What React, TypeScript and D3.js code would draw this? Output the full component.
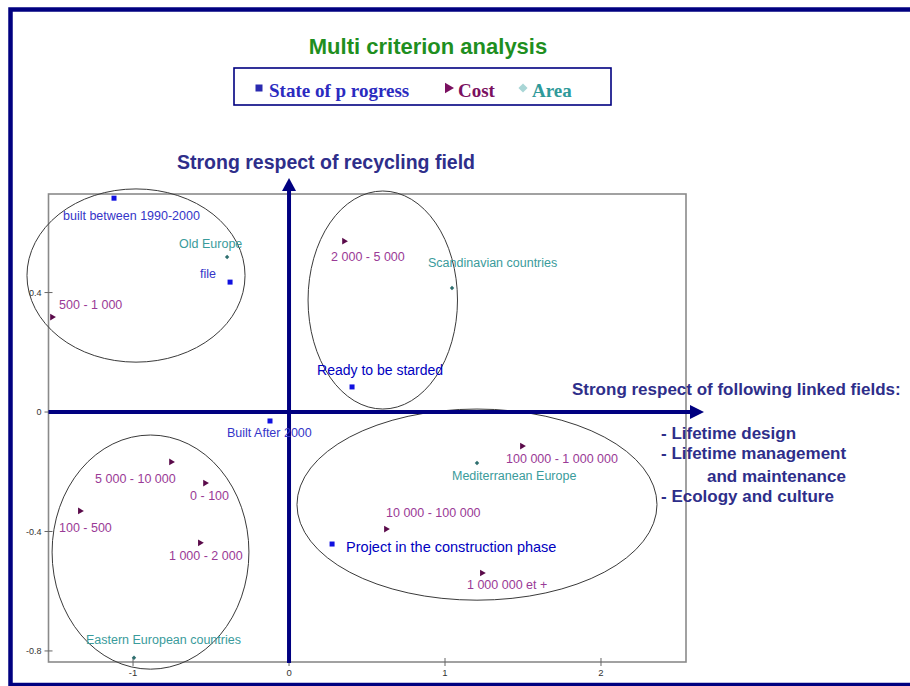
import React from 'react';
import * as d3 from 'd3';

// ---- data ----
const stateLabels = ['built between 1990-2000', 'file', 'Ready to be starded', 'Built After 2000', 'Project in the construction phase'];
const stateX = [-1.122, -0.378, 0.404, -0.122, 0.276];
const stateY = [0.716, 0.435, 0.084, -0.03, -0.442];

const costLabels = ['2 000 - 5 000', '500 - 1 000', '5 000 - 10 000', '0 - 100', '100 - 500', '1 000 - 2 000', '100 000 - 1 000 000', '10 000 - 100 000', '1 000 000 et +'];
const costX = [0.353, -1.519, -0.756, -0.538, -1.34, -0.571, 1.494, 0.622, 1.237];
const costY = [0.572, 0.318, -0.167, -0.238, -0.331, -0.438, -0.114, -0.392, -0.539];

const areaLabels = ['Old Europe', 'Scandinavian countries', 'Mediterranean Europe', 'Eastern European countries'];
const areaX = [-0.397, 1.045, 1.205, -0.994];
const areaY = [0.519, 0.415, -0.171, -0.823];

// cluster ellipses (data units)
const groupCX = [-0.981, 0.601, -0.888, 1.205];
const groupCY = [0.457, 0.375, -0.469, -0.31];
const groupRX = [0.699, 0.479, 0.631, 1.154];
const groupRY = [0.29, 0.365, 0.392, 0.32];

const xTicks = [-1, 0, 1, 2];
const yTicks = [0.4, 0, -0.4, -0.8];

const title = 'Multi criterion analysis';
const legendNames = ['State of p rogress', 'Cost', 'Area'];
const yAxisTitle = 'Strong respect of recycling field';
const xAxisTitle = 'Strong respect of following linked fields:';
const xAxisLines = ['- Lifetime design', '- Lifetime management', 'and maintenance', '- Ecology and culture'];

// ---- layout (pixel offsets of labels relative to their points) ----
const stateDx = [-51, -30, -35, -43, 14];
const stateDy = [17, -8, -17, 12, 3];
const stateFs = [12.5, 12.5, 14, 12.5, 14.5];
const stateFill = ['#3535c8', '#3535c8', '#0000c0', '#3535c8', '#0000c0'];
const costDx = [-13, 7, -76, -15, -21, -31, -16, 0, -15];
const costDy = [15, -12, 17, 13, 17, 13, 13, -16, 12];
const areaDx = [-48, -24, -25, -48];
const areaDy = [-13, -25, 13, -18];

const W = 910;
const H = 686;
const NAVY = '#000080';
const TXT = '#2e2e8a';
const SANS = '"Liberation Sans", Arial, sans-serif';
const SERIF = '"Liberation Serif", "Times New Roman", serif';

export default function App() {
  const x = d3.scaleLinear().domain([-1.542, 2.545]).range([48.5, 686]);
  const y = d3.scaleLinear().domain([-0.837, 0.73]).range([662, 194]);
  const [x0, x1] = x.range();
  const [y0, y1] = y.range();

  const tri = d3.symbol().type(d3.symbolTriangle).size(30)();
  const dot = d3.symbol().type(d3.symbolSquare).size(10)();

  return (
    <svg width={W} height={H} style={{ position: 'absolute', left: 0, top: 0, background: '#fff' }}>
      <rect x={0} y={0} width={W} height={H} fill="#fff" />
      {/* outer border */}
      <rect x={10.5} y={9.5} width={905} height={675.5} fill="none" stroke={NAVY} strokeWidth={4.5} />

      {/* title */}
      <text x={428} y={54} textAnchor="middle" fontFamily={SANS} fontWeight="bold" fontSize={22} fill="#1f8f1f">{title}</text>

      {/* legend */}
      <rect x={234} y={68} width={377} height={37} fill="#fff" stroke={NAVY} strokeWidth={1.6} />
      <rect x={255.5} y={84.5} width={7} height={7} fill="#2a2ab0" />
      <text x={269} y={97} fontFamily={SERIF} fontWeight="bold" fontSize={19} fill="#2b2bc0">{legendNames[0]}</text>
      <path d={tri} transform="translate(448,88) rotate(90) scale(1.25)" fill="#7a1060" />
      <text x={458} y={97} fontFamily={SERIF} fontWeight="bold" fontSize={19} fill="#7a1060">{legendNames[1]}</text>
      <path d={d3.symbol().type(d3.symbolSquare).size(42)()} transform="translate(523,88) rotate(45)" fill="#a9d6d6" />
      <text x={532} y={97} fontFamily={SERIF} fontWeight="bold" fontSize={19} fill="#2f9a9a">{legendNames[2]}</text>

      {/* plot frame */}
      <rect x={x0} y={y1} width={x1 - x0} height={y0 - y1} fill="none" stroke="#8a8a8a" strokeWidth={1.6} />

      {/* y ticks */}
      {yTicks.map((t) => (
        <g key={'yt' + t}>
          <line x1={x0 - 4} x2={x0 + 4} y1={y(t)} y2={y(t)} stroke="#666" strokeWidth={1} />
          <text x={x0 - 7} y={y(t)} dy="0.35em" textAnchor="end" fontFamily={SANS} fontSize={9} fill="#333">{t === 0 ? '0' : String(t)}</text>
        </g>
      ))}
      {/* x ticks */}
      {xTicks.map((t) => (
        <g key={'xt' + t}>
          <line x1={x(t)} x2={x(t)} y1={y0 - 4} y2={y0 + 4} stroke="#666" strokeWidth={1} />
          <text x={x(t)} y={y0 + 14} textAnchor="middle" fontFamily={SANS} fontSize={9.5} fill="#333">{String(t)}</text>
        </g>
      ))}

      {/* cluster ellipses */}
      {groupCX.map((cx, i) => (
        <ellipse key={'el' + i} cx={x(cx)} cy={y(groupCY[i])}
          rx={x(groupRX[i]) - x(0)} ry={y(0) - y(groupRY[i])}
          fill="none" stroke="#3a3a3a" strokeWidth={1} />
      ))}

      {/* axes arrows */}
      <line x1={x0} x2={x1 + 6} y1={y(0)} y2={y(0)} stroke={NAVY} strokeWidth={4} />
      <path d={`M${x1 + 18},${y(0)} L${x1 + 4},${y(0) - 7} L${x1 + 4},${y(0) + 7} Z`} fill={NAVY} />
      <line x1={x(0)} x2={x(0)} y1={y0 + 1} y2={y1 - 5} stroke={NAVY} strokeWidth={4} />
      <path d={`M${x(0)},${y1 - 16} L${x(0) - 7},${y1 - 3} L${x(0) + 7},${y1 - 3} Z`} fill={NAVY} />

      {/* area points */}
      {areaLabels.map((lab, i) => (
        <g key={'a' + i}>
          <path d={dot} transform={`translate(${x(areaX[i])},${y(areaY[i])}) rotate(45)`} fill="#2f6f6f" />
          <text x={x(areaX[i]) + areaDx[i]} y={y(areaY[i]) + areaDy[i]} dy="0.35em" fontFamily={SANS} fontSize={12.5} fill="#3a9b9b">{lab}</text>
        </g>
      ))}

      {/* cost points */}
      {costLabels.map((lab, i) => (
        <g key={'c' + i}>
          <path d={tri} transform={`translate(${x(costX[i])},${y(costY[i])}) rotate(90) scale(0.8)`} fill="#5a0a4a" />
          <text x={x(costX[i]) + costDx[i]} y={y(costY[i]) + costDy[i]} dy="0.35em" fontFamily={SANS} fontSize={12.5} fill="#9a3a96">{lab}</text>
        </g>
      ))}

      {/* state of progress points */}
      {stateLabels.map((lab, i) => (
        <g key={'s' + i}>
          <rect x={x(stateX[i]) - 2.5} y={y(stateY[i]) - 2.5} width={5} height={5} fill="#1010e0" />
          <text x={x(stateX[i]) + stateDx[i]} y={y(stateY[i]) + stateDy[i]} dy="0.35em" fontFamily={SANS} fontSize={stateFs[i]} fill={stateFill[i]}>{lab}</text>
        </g>
      ))}

      {/* axis titles */}
      <text x={177} y={169} fontFamily={SANS} fontWeight="bold" fontSize={19.5} fill={TXT}>{yAxisTitle}</text>
      <text x={572} y={395} fontFamily={SANS} fontWeight="bold" fontSize={17} fill={TXT}>{xAxisTitle}</text>
      {xAxisLines.map((l, i) => (
        <text key={'xl' + i} x={i === 2 ? 707 : 661} y={[439, 459, 482, 502][i]} fontFamily={SANS} fontWeight="bold" fontSize={17} fill={TXT}>{l}</text>
      ))}
    </svg>
  );
}
